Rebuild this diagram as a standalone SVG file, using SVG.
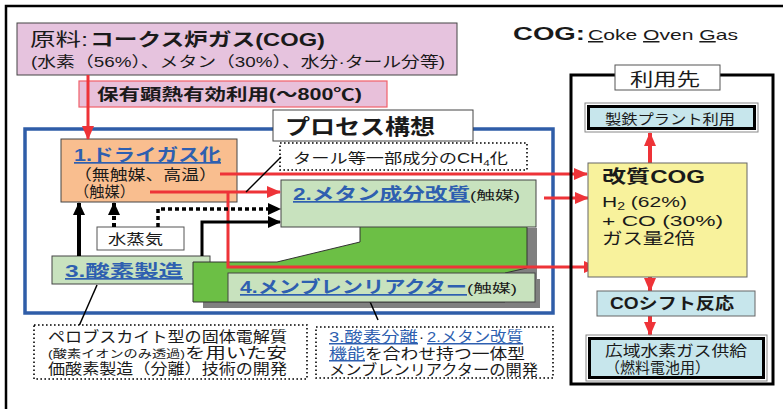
<svg xmlns="http://www.w3.org/2000/svg" width="783" height="409" viewBox="0 0 783 409">
<defs>
<marker id="ar" markerUnits="userSpaceOnUse" markerWidth="14" markerHeight="12" viewBox="0 0 14 12" refX="13" refY="6" orient="auto"><path d="M0,0 L14,6 L0,12 z" fill="#EE3338"/></marker>
<marker id="ak" markerUnits="userSpaceOnUse" markerWidth="13" markerHeight="12" viewBox="0 0 13 12" refX="12" refY="6" orient="auto"><path d="M0,0 L13,6 L0,12 z" fill="#000"/></marker>
</defs>
<style>
text{font-family:"Liberation Sans","Noto Sans CJK JP",sans-serif;fill:#1a1a1a}
.b{font-weight:bold}
.hd{font-weight:bold;fill:#2E5FB0;text-decoration:underline}
.lk{fill:#2E5FB0;text-decoration:underline}
.red{stroke:#EE3338;stroke-width:3;fill:none}
.redt{stroke:#EE3338;stroke-width:4;fill:none}
.blk{stroke:#000;fill:none}
.lg{fill:#C8E2BE;stroke:#444;stroke-width:1}
.cy{fill:#C7E6EC}
.dot{fill:#fff;stroke:#000;stroke-width:1.6;stroke-dasharray:1.6 2.4}
</style>
<rect width="783" height="409" fill="#fff"/>
<path d="M6,409 V6 H783" fill="none" stroke="#000" stroke-width="2.5"/>

<g id="source">
<rect x="17" y="23" width="440" height="52" fill="#E6C3DE" stroke="#444" stroke-width="1"/>
<text x="30" y="46" font-size="18" textLength="58" lengthAdjust="spacingAndGlyphs">原料:</text>
<text x="90" y="46" font-size="18" class="b" textLength="235" lengthAdjust="spacingAndGlyphs">コークス炉ガス(COG)</text>
<text x="31" y="67" font-size="15" textLength="414" lengthAdjust="spacingAndGlyphs">(水素（56%）、メタン（30%）、水分·タール分等)</text>
</g>

<g id="heat">
<rect x="79" y="81" width="308" height="26" fill="#E8C0DA" stroke="#F0606A" stroke-width="1.2"/>
<text x="97" y="100" font-size="16" class="b" textLength="265" lengthAdjust="spacingAndGlyphs">保有顕熱有効利用(〜800℃)</text>
</g>

<g id="cog-note">
<text x="513" y="40" font-size="18" font-weight="900" textLength="72" lengthAdjust="spacingAndGlyphs">COG:</text>
<text x="588" y="40" font-size="15" textLength="150" lengthAdjust="spacingAndGlyphs"><tspan text-decoration="underline">C</tspan>oke <tspan text-decoration="underline">O</tspan>ven <tspan text-decoration="underline">G</tspan>as</text>
</g>

<g id="process">
<rect x="25" y="129" width="528" height="184" fill="none" stroke="#2F5DA8" stroke-width="3.5"/>
<rect x="273" y="110" width="200" height="31" fill="#fff" stroke="#444" stroke-width="1"/>
<text x="285" y="134" font-size="21" class="b" textLength="150" lengthAdjust="spacingAndGlyphs">プロセス構想</text>
</g>

<g id="shadow">
<polygon points="203,268 287,268 370,248 370,228 537,228 537,308 203,308" fill="#808080"/>
<rect x="240" y="279" width="300" height="29" fill="#808080"/>
</g>

<g id="n3">
<rect x="52" y="256" width="158" height="28" class="lg"/>
<text x="65" y="277" font-size="17" class="hd" textLength="118" lengthAdjust="spacingAndGlyphs">3.酸素製造</text>
</g>

<g id="membrane-body">
<polygon points="193,262 277,262 360,242 360,222 527,222 527,268 505,273 505,302 193,302" fill="#6CBF45" stroke="#333" stroke-width="1"/>
</g>

<g id="n2">
<rect x="281" y="180" width="255" height="47" class="lg"/>
<text x="293" y="200" font-size="17" class="hd" textLength="177" lengthAdjust="spacingAndGlyphs">2.メタン成分改質</text>
<text x="470" y="200" font-size="12" textLength="50" lengthAdjust="spacingAndGlyphs">(触媒)</text>
</g>

<g id="n1">
<rect x="61" y="139" width="176" height="63" fill="#F9BE8F" stroke="#444" stroke-width="1"/>
<text x="74" y="161" font-size="17" class="hd" textLength="147" lengthAdjust="spacingAndGlyphs">1.ドライガス化</text>
<text x="74" y="180" font-size="15" textLength="143" lengthAdjust="spacingAndGlyphs">（無触媒、高温）</text>
<text x="74" y="197" font-size="15" textLength="61" lengthAdjust="spacingAndGlyphs">（触媒）</text>
</g>

<g id="steam">
<rect x="97" y="227" width="87" height="23" fill="#fff" stroke="#555" stroke-width="1"/>
<text x="108" y="244" font-size="14" textLength="55" lengthAdjust="spacingAndGlyphs">水蒸気</text>
</g>

<g id="tar">
<rect x="280" y="143" width="247" height="27" class="dot"/>
<text x="293" y="163" font-size="14" textLength="215" lengthAdjust="spacingAndGlyphs">タール等一部成分のCH<tspan font-size="9" dy="3">4</tspan><tspan dy="-3">化</tspan></text>
</g>

<g id="connectors">
<line x1="88" y1="75" x2="88" y2="139" class="red" marker-end="url(#ar)"/>
<line x1="220" y1="174" x2="587" y2="174" class="red" marker-end="url(#ar)"/>
<line x1="150" y1="192" x2="280" y2="192" class="red" marker-end="url(#ar)"/>
<polyline points="228,192 228,267 597,267" class="red" marker-end="url(#ar)"/>
<line x1="544" y1="198" x2="588" y2="198" class="red" marker-end="url(#ar)"/>
<line x1="650" y1="163" x2="650" y2="133" class="redt" marker-end="url(#ar)"/>
<line x1="650" y1="277" x2="650" y2="291" class="redt" marker-end="url(#ar)"/>
<line x1="650" y1="316" x2="650" y2="335" class="redt" marker-end="url(#ar)"/>
<line x1="79" y1="256" x2="79" y2="203" class="blk" stroke-width="4" marker-end="url(#ak)"/>
<line x1="114" y1="227" x2="114" y2="203" class="blk" stroke-width="4" stroke-dasharray="4 3" marker-end="url(#ak)"/>
<polyline points="158,227 158,209 280,209" class="blk" stroke-width="3.5" stroke-dasharray="4 3" marker-end="url(#ak)"/>
<polyline points="202,256 202,222 280,222" class="blk" stroke-width="3" marker-end="url(#ak)"/>
<line x1="246" y1="192" x2="281" y2="157" class="blk" stroke-width="1.5"/>
<line x1="97" y1="285" x2="79" y2="326" class="blk" stroke-width="1.5"/>
<line x1="368" y1="297" x2="378" y2="320" class="blk" stroke-width="1.5"/>
</g>

<g id="n4">
<rect x="228" y="273" width="307" height="29" class="lg"/>
<text x="240" y="293" font-size="17" class="hd" textLength="227" lengthAdjust="spacingAndGlyphs">4.メンブレンリアクター</text>
<text x="467" y="293" font-size="12" textLength="50" lengthAdjust="spacingAndGlyphs">(触媒)</text>
</g>

<g id="note-left">
<rect x="34" y="325" width="273" height="54" class="dot"/>
<text x="48" y="342" font-size="15" textLength="239" lengthAdjust="spacingAndGlyphs">ペロブスカイト型の固体電解質</text>
<text x="48" y="358" font-size="11" textLength="137" lengthAdjust="spacingAndGlyphs">(酸素イオンのみ透過)</text>
<text x="185" y="358" font-size="15" textLength="102" lengthAdjust="spacingAndGlyphs">を用いた安</text>
<text x="48" y="374" font-size="15" textLength="239" lengthAdjust="spacingAndGlyphs">価酸素製造（分離）技術の開発</text>
</g>

<g id="note-right">
<rect x="316" y="327" width="237" height="51" class="dot"/>
<text x="329" y="342" font-size="15" class="lk" textLength="89" lengthAdjust="spacingAndGlyphs">3.酸素分離</text>
<text x="419" y="342" font-size="15">·</text>
<text x="427" y="342" font-size="15" class="lk" textLength="96" lengthAdjust="spacingAndGlyphs">2.メタン改質</text>
<text x="329" y="359" font-size="15" class="lk" textLength="36" lengthAdjust="spacingAndGlyphs">機能</text>
<text x="365" y="359" font-size="15" textLength="160" lengthAdjust="spacingAndGlyphs">を合わせ持つ一体型</text>
<text x="329" y="375" font-size="15" textLength="209" lengthAdjust="spacingAndGlyphs">メンブレンリアクターの開発</text>
</g>

<g id="usage">
<rect x="571" y="75" width="202" height="309" fill="none" stroke="#000" stroke-width="3"/>
<rect x="615" y="65" width="105" height="25" fill="#fff" stroke="#555" stroke-width="1"/>
<text x="630" y="86" font-size="18" textLength="70" lengthAdjust="spacingAndGlyphs">利用先</text>
</g>

<g id="steel">
<rect x="585" y="103" width="173" height="29" fill="none" stroke="#888" stroke-width="1"/>
<rect x="588.5" y="106.5" width="166" height="22" class="cy" stroke="#000" stroke-width="3"/>
<text x="605" y="124" font-size="14" textLength="130" lengthAdjust="spacingAndGlyphs">製鉄プラント利用</text>
</g>

<g id="reformed">
<rect x="588" y="163" width="159" height="114" fill="#F8F29C" stroke="#666" stroke-width="1"/>
<text x="602" y="183" font-size="18" class="b" textLength="103" lengthAdjust="spacingAndGlyphs">改質COG</text>
<text x="602" y="207" font-size="15" textLength="85" lengthAdjust="spacingAndGlyphs">H<tspan font-size="10" dy="3">2</tspan><tspan dy="-3"> (62%)</tspan></text>
<text x="602" y="226" font-size="15" textLength="121" lengthAdjust="spacingAndGlyphs">+   CO (30%)</text>
<text x="602" y="244" font-size="16" textLength="93" lengthAdjust="spacingAndGlyphs">ガス量2倍</text>
</g>

<g id="shift">
<rect x="597" y="291" width="158" height="25" class="cy" stroke="#666" stroke-width="1"/>
<text x="610" y="309" font-size="16" class="b" textLength="124" lengthAdjust="spacingAndGlyphs">COシフト反応</text>
</g>

<g id="supply">
<rect x="586" y="335" width="181" height="46" fill="none" stroke="#888" stroke-width="1"/>
<rect x="589.5" y="338.5" width="174" height="39" class="cy" stroke="#000" stroke-width="3"/>
<text x="605" y="356" font-size="15" textLength="142" lengthAdjust="spacingAndGlyphs">広域水素ガス供給</text>
<text x="605" y="373" font-size="15" textLength="105" lengthAdjust="spacingAndGlyphs">（燃料電池用）</text>
</g>
</svg>
